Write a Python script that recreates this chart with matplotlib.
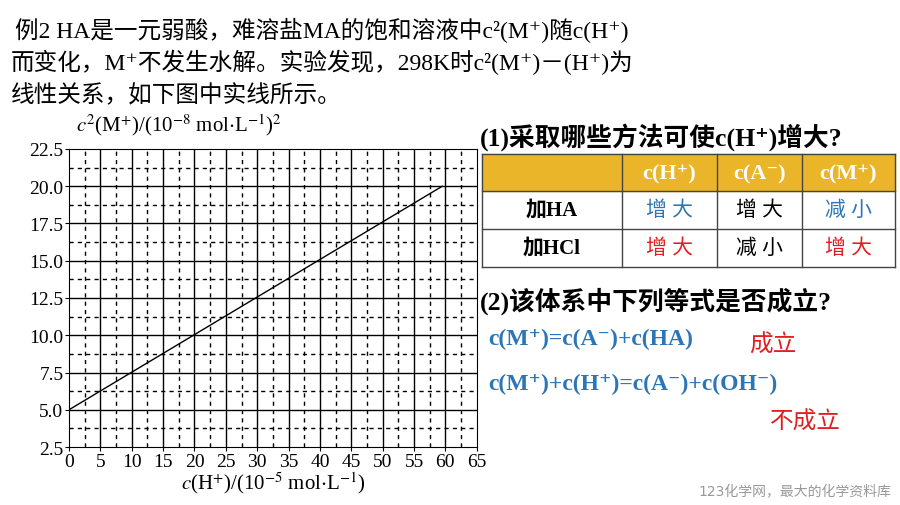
import numpy as np
import matplotlib.pyplot as plt
from matplotlib.patches import Rectangle

# data
line_x = [0, 59.5]
line_y = [5.0, 20.0]
xticks = list(range(0, 70, 5))
yticks = [2.5, 5.0, 7.5, 10.0, 12.5, 15.0, 17.5, 20.0, 22.5]
col_heads = ["c(H⁺)", "c(A⁻)", "c(M⁺)"]
row_heads = ["加HA", "加HCl"]
cells = [["增大", "增大", "减小"], ["增大", "减小", "增大"]]
cell_colors = [["#2E75B6", "black", "#2E75B6"], ["#E02020", "black", "#E02020"]]

MIX = ["Liberation Serif", "Noto Sans CJK SC", "DejaVu Serif"]
plt.rcParams["font.family"] = MIX
plt.rcParams["mathtext.fontset"] = "stix"

fig = plt.figure(figsize=(9, 5.06), dpi=100)

# header text
fig.text(0.017, 0.94, "例2 HA是一元弱酸，难溶盐MA的饱和溶液中c²(M⁺)随c(H⁺)", fontsize=17, va="center")
fig.text(0.012, 0.877, "而变化，M⁺不发生水解。实验发现，298K时c²(M⁺)－(H⁺)为", fontsize=17, va="center")
fig.text(0.012, 0.81, "线性关系，如下图中实线所示。", fontsize=17, va="center")

ax = fig.add_axes([0.0767, 0.1146, 0.453, 0.589])
ax.plot(line_x, line_y, color="black", lw=1)
ax.set_xlim(0, 65)
ax.set_ylim(2.5, 22.5)
ax.set_xticks(xticks)
ax.set_yticks(yticks)
ax.set_yticklabels([f"{v:.1f}" for v in yticks])
for v in xticks[1:-1]:
    ax.axvline(v, color="black", lw=1)
for v in yticks[1:-1]:
    ax.axhline(v, color="black", lw=1)
for v in np.arange(2.5, 65, 5):
    ax.axvline(v, color="black", lw=1, ls=(0, (3, 3)))
for v in np.arange(3.75, 22.5, 2.5):
    ax.axhline(v, color="black", lw=1, ls=(0, (3, 3)))
ax.tick_params(labelsize=14, length=3, pad=1)
ax.set_xlabel("$c$(H$^{+}$)/(10$^{-5}$ mol$\\cdot$L$^{-1}$)", fontsize=15, labelpad=0)
fig.text(0.085, 0.752, "$c^{2}$(M$^{+}$)/(10$^{-8}$ mol$\\cdot$L$^{-1}$)$^{2}$", fontsize=15, va="center")

# right panel
fig.text(0.533, 0.73, "(1)采取哪些方法可使c(H⁺)增大?", fontsize=18.5, fontweight="bold", va="center")
W, H = 900, 506
xs = [482, 622, 717, 802, 895]
ys = [155, 192, 230, 268]
def fx(p): return p / W
def fy(p): return 1 - p / H
fig.patches.append(Rectangle((fx(482), fy(192)), fx(895) - fx(482), fy(155) - fy(192),
                             transform=fig.transFigure, color="#EBB52A", zorder=0))
for y in ys:
    fig.add_artist(plt.Line2D([fx(482), fx(895)], [fy(y), fy(y)], color="#444444", lw=1))
for x in xs:
    fig.add_artist(plt.Line2D([fx(x), fx(x)], [fy(155), fy(268)], color="#444444", lw=1))
for j, t in enumerate(col_heads):
    fig.text(fx((xs[j + 1] + xs[j + 2]) / 2), fy(174), t, color="white", fontsize=16,
             fontweight="bold", ha="center", va="center")
for i, r in enumerate(row_heads):
    yc = fy((ys[i + 1] + ys[i + 2]) / 2)
    fig.text(fx((xs[0] + xs[1]) / 2), yc, r, fontsize=15, fontweight="bold", ha="center", va="center")
    for j in range(3):
        fig.text(fx((xs[j + 1] + xs[j + 2]) / 2), yc, " ".join(cells[i][j]), color=cell_colors[i][j],
                 fontsize=15, ha="center", va="center")

fig.text(0.533, 0.405, "(2)该体系中下列等式是否成立?", fontsize=18.5, fontweight="bold", va="center")
fig.text(0.543, 0.33, "c(M⁺)=c(A⁻)+c(HA)", fontsize=17, fontweight="bold", color="#2E75B6", va="center")
fig.text(0.832, 0.318, "成立", fontsize=17, color="#E02020", va="center")
fig.text(0.543, 0.24, "c(M⁺)+c(H⁺)=c(A⁻)+c(OH⁻)", fontsize=17, fontweight="bold", color="#2E75B6", va="center")
fig.text(0.855, 0.165, "不成立", fontsize=17, color="#E02020", va="center")
fig.text(0.99, 0.028, "123化学网，最大的化学资料库", fontsize=10, color="#999999", ha="right", va="center",
         family=["DejaVu Sans", "Noto Sans CJK SC"])

fig.savefig("out.png", dpi=100)
